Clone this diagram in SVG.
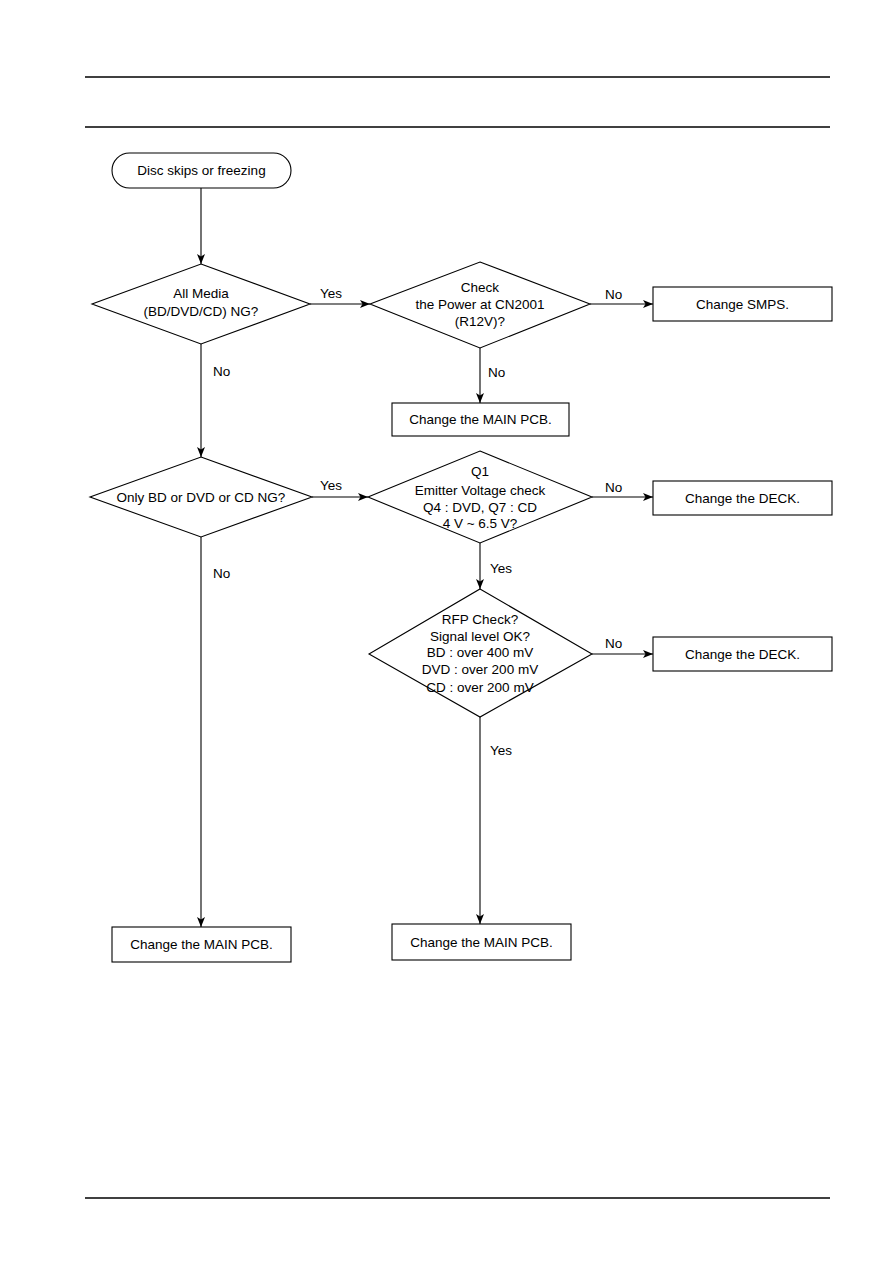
<svg xmlns="http://www.w3.org/2000/svg" width="893" height="1263" viewBox="0 0 893 1263">
<defs>
<style>
.n{fill:#fff;stroke:#000;stroke-width:1.1}
.t{font-family:"Liberation Sans",Arial,sans-serif;font-size:13.5px;fill:#000;text-anchor:middle}
.l{font-family:"Liberation Sans",Arial,sans-serif;font-size:13.5px;fill:#000}
.c{fill:none;stroke:#000;stroke-width:1.1;marker-end:url(#ah)}
.r{stroke:#000;stroke-width:1.4}
</style>
<marker id="ah" viewBox="0 0 10 8" refX="10" refY="4" markerWidth="10" markerHeight="8" markerUnits="userSpaceOnUse" orient="auto">
<path d="M0,0 L10,4 L0,8 L2.5,4 Z" fill="#000"/>
</marker>
</defs>
<rect width="893" height="1263" fill="#fff"/>
<line class="r" x1="85" y1="77" x2="830" y2="77"/>
<line class="r" x1="85" y1="127" x2="830" y2="127"/>
<line class="r" x1="85" y1="1198" x2="830" y2="1198"/>

<g id="connectors">
<line class="c" x1="201" y1="188" x2="201" y2="264"/>
<line class="c" x1="310" y1="304" x2="370" y2="304"/>
<line class="c" x1="590" y1="304" x2="653" y2="304"/>
<line class="c" x1="480" y1="348" x2="480" y2="403"/>
<line class="c" x1="201" y1="344" x2="201" y2="457"/>
<line class="c" x1="312" y1="497" x2="368" y2="497"/>
<line class="c" x1="592" y1="497" x2="653" y2="497"/>
<line class="c" x1="480" y1="543" x2="480" y2="589"/>
<line class="c" x1="592" y1="654" x2="653" y2="654"/>
<line class="c" x1="201" y1="537" x2="201" y2="927"/>
<line class="c" x1="480" y1="717" x2="480" y2="924"/>
<text class="l" x="320" y="298">Yes</text>
<text class="l" x="605" y="299">No</text>
<text class="l" x="488" y="377">No</text>
<text class="l" x="213" y="376">No</text>
<text class="l" x="320" y="490">Yes</text>
<text class="l" x="605" y="492">No</text>
<text class="l" x="490" y="573">Yes</text>
<text class="l" x="605" y="648">No</text>
<text class="l" x="490" y="755">Yes</text>
<text class="l" x="213" y="578">No</text>
</g>

<g id="start">
<rect class="n" x="112" y="153" width="179" height="35" rx="17.5"/>
<text class="t" x="201.5" y="175">Disc skips or freezing</text>
</g>

<g id="d1">
<polygon class="n" points="201,264 310,304 201,344 92,304"/>
<text class="t" x="201" y="298">All Media</text>
<text class="t" x="201" y="316">(BD/DVD/CD) NG?</text>
</g>

<g id="d2">
<polygon class="n" points="480,262 590,304 480,348 370,304"/>
<text class="t" x="480" y="292">Check</text>
<text class="t" x="480" y="309">the Power at CN2001</text>
<text class="t" x="480" y="326">(R12V)?</text>
</g>

<g id="smps">
<rect class="n" x="653" y="287" width="179" height="34"/>
<text class="t" x="742.5" y="309">Change SMPS.</text>
</g>

<g id="main1">
<rect class="n" x="392" y="403" width="177" height="33"/>
<text class="t" x="480.5" y="424">Change the MAIN PCB.</text>
</g>

<g id="d3">
<polygon class="n" points="201,457 312,497 201,537 90,497"/>
<text class="t" x="201" y="502">Only BD or DVD or CD NG?</text>
</g>

<g id="d4">
<polygon class="n" points="480,451 592,497 480,543 368,497"/>
<text class="t" x="480" y="476">Q1</text>
<text class="t" x="480" y="495">Emitter Voltage check</text>
<text class="t" x="480" y="512">Q4 : DVD, Q7 : CD</text>
<text class="t" x="480" y="528">4 V ~ 6.5 V?</text>
</g>

<g id="deck1">
<rect class="n" x="653" y="481" width="179" height="34"/>
<text class="t" x="742.5" y="503">Change the DECK.</text>
</g>

<g id="d5">
<polygon class="n" points="480,589 592,654 480,717 369,654"/>
<text class="t" x="480" y="624">RFP Check?</text>
<text class="t" x="480" y="641">Signal level OK?</text>
<text class="t" x="480" y="657">BD : over 400 mV</text>
<text class="t" x="480" y="674">DVD : over 200 mV</text>
<text class="t" x="480" y="692">CD : over 200 mV</text>
</g>

<g id="deck2">
<rect class="n" x="653" y="637" width="179" height="34"/>
<text class="t" x="742.5" y="659">Change the DECK.</text>
</g>

<g id="main2">
<rect class="n" x="112" y="927" width="179" height="35"/>
<text class="t" x="201.5" y="949">Change the MAIN PCB.</text>
</g>

<g id="main3">
<rect class="n" x="392" y="924" width="179" height="36"/>
<text class="t" x="481.5" y="947">Change the MAIN PCB.</text>
</g>
</svg>
